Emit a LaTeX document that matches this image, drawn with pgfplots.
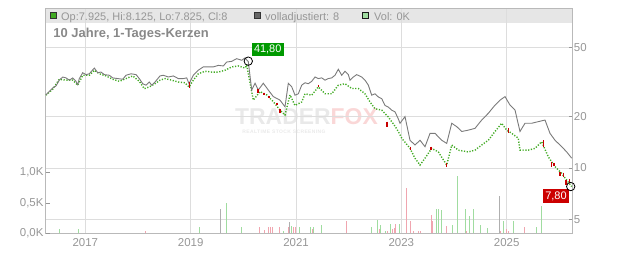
\documentclass[border=0pt]{standalone}
\usepackage{fontspec}
\setmainfont{Liberation Sans}
\newfontfamily\wmfont[LetterSpace=8]{Liberation Sans}
\usepackage{pgfplots}
\usepackage{pgfplotstable}
\pgfplotsset{compat=1.18}

\definecolor{gridcol}{RGB}{221,221,221}
\definecolor{bandcol}{RGB}{230,230,230}
\definecolor{framecol}{RGB}{185,185,185}
\definecolor{labelgray}{RGB}{150,150,150}
\definecolor{titlegray}{RGB}{136,136,136}
\definecolor{pricegray}{RGB}{122,122,122}
\definecolor{candlegreen}{RGB}{65,170,35}
\definecolor{candlered}{RGB}{200,0,0}
\definecolor{volgreen}{RGB}{160,220,160}
\definecolor{volred}{RGB}{240,165,175}
\definecolor{volgray}{RGB}{175,175,175}
\definecolor{boxgreen}{RGB}{0,153,0}
\definecolor{boxred}{RGB}{204,0,0}
\definecolor{wmgray}{RGB}{233,233,233}
\definecolor{wmred}{RGB}{250,215,215}

\pgfplotstableread{
x y
2016.254 26.7
2016.317 27.9
2016.381 29.2
2016.444 30.0
2016.506 32.4
2016.571 33.8
2016.634 33.4
2016.696 32.4
2016.761 33.4
2016.823 31.9
2016.856 30.5
2016.886 33.1
2016.951 35.8
2017.013 34.9
2017.076 35.3
2017.171 38.1
2017.235 35.8
2017.298 36.1
2017.361 34.9
2017.456 34.6
2017.520 33.4
2017.615 33.1
2017.710 32.8
2017.773 34.6
2017.868 35.3
2017.963 34.9
2018.025 33.1
2018.090 30.9
2018.152 30.3
2018.215 31.6
2018.260 30.3
2018.323 31.6
2018.418 34.3
2018.481 34.6
2018.576 33.8
2018.671 34.3
2018.766 33.1
2018.860 33.1
2018.925 33.4
2018.969 30.9
2019.050 34.6
2019.145 37.0
2019.240 38.7
2019.335 38.7
2019.430 38.7
2019.525 39.5
2019.620 39.2
2019.684 41.3
2019.779 41.7
2019.874 43.2
2019.969 42.3
2020.032 43.6
2020.094 41.5
2020.159 28.4
2020.222 31.1
2020.284 28.4
2020.379 31.1
2020.474 28.4
2020.569 26.0
2020.696 24.8
2020.791 22.7
2020.854 31.1
2020.918 29.7
2020.981 26.5
2021.044 27.0
2021.108 30.3
2021.171 31.3
2021.233 30.9
2021.298 31.9
2021.361 33.8
2021.423 33.1
2021.488 33.4
2021.551 32.4
2021.613 33.1
2021.678 33.4
2021.740 34.6
2021.803 37.5
2021.868 34.6
2021.930 36.5
2021.993 34.9
2022.025 32.4
2022.088 33.8
2022.152 34.9
2022.247 33.8
2022.310 32.4
2022.373 30.3
2022.437 26.5
2022.500 27.0
2022.562 25.9
2022.627 25.3
2022.690 23.1
2022.752 22.6
2022.817 21.7
2022.880 21.2
2022.942 19.3
2022.974 18.2
2023.069 19.9
2023.164 14.5
2023.259 13.6
2023.354 14.5
2023.449 13.3
2023.544 15.9
2023.639 15.9
2023.766 14.5
2023.861 13.9
2023.956 18.2
2024.051 17.4
2024.146 16.3
2024.271 16.6
2024.398 17.0
2024.525 19.0
2024.651 20.8
2024.778 23.2
2024.873 24.8
2024.968 26.0
2025.063 23.2
2025.158 21.7
2025.252 16.3
2025.347 18.2
2025.475 18.2
2025.600 18.6
2025.727 19.0
2025.822 15.9
2025.917 14.5
2026.044 13.3
2026.139 12.4
2026.234 11.4
}\graydata

\pgfplotstableread{
x y
2016.254 26.5
2016.381 28.7
2016.506 32.8
2016.634 32.4
2016.761 32.4
2016.856 30.3
2016.951 34.6
2017.076 34.6
2017.171 37.0
2017.266 35.3
2017.393 34.3
2017.520 32.8
2017.645 31.9
2017.773 33.1
2017.900 34.3
2018.025 31.9
2018.120 28.9
2018.215 29.6
2018.323 30.9
2018.418 32.4
2018.513 33.1
2018.640 32.4
2018.766 31.6
2018.893 31.3
2018.969 29.6
2019.050 32.4
2019.145 35.3
2019.272 36.5
2019.400 36.1
2019.525 36.1
2019.652 37.0
2019.779 38.7
2019.905 39.2
2020.032 38.1
2020.064 39.7
2020.189 24.8
2020.317 27.8
2020.444 26.6
2020.569 24.3
2020.696 21.7
2020.791 20.3
2020.886 26.6
2020.981 23.1
2021.108 24.2
2021.171 27.0
2021.298 26.5
2021.423 29.6
2021.551 27.0
2021.678 27.0
2021.803 30.3
2021.930 30.9
2022.057 29.0
2022.183 29.0
2022.310 27.0
2022.405 24.2
2022.500 22.1
2022.627 21.7
2022.752 19.8
2022.880 17.5
2022.942 16.3
2023.007 14.9
2023.164 13.0
2023.259 11.4
2023.354 10.4
2023.449 11.4
2023.576 13.0
2023.702 12.4
2023.861 10.4
2023.956 13.6
2024.081 12.7
2024.271 12.4
2024.398 12.7
2024.525 13.6
2024.651 14.5
2024.778 16.3
2024.905 18.2
2025.000 16.6
2025.095 15.9
2025.220 14.9
2025.252 12.7
2025.410 12.7
2025.537 13.0
2025.664 14.2
2025.790 11.6
2025.917 10.2
2026.044 9.3
2026.139 8.5
2026.234 7.8
}\greendata

\pgfplotstableread{
x y
2018.974 31.7
2018.974 29.1
nan nan
2020.279 28.7
2020.279 27.2
nan nan
2020.392 27.4
2020.392 26.6
nan nan
2020.487 26.2
2020.487 25.4
nan nan
2020.639 24.0
2020.639 23.2
nan nan
2020.696 21.9
2020.696 21.0
nan nan
2021.423 30.4
2021.423 29.5
nan nan
2022.728 18.6
2022.728 17.4
nan nan
2023.178 13.3
2023.178 12.7
nan nan
2023.563 13.3
2023.563 12.7
nan nan
2023.861 10.7
2023.861 10.2
nan nan
2025.030 17.0
2025.030 15.9
nan nan
2025.695 14.5
2025.695 13.3
nan nan
2025.854 10.9
2025.854 10.2
nan nan
2025.898 10.7
2025.898 10.3
nan nan
2026.012 9.5
2026.012 8.98
nan nan
2026.075 9.39
2026.075 8.9
nan nan
2026.126 8.52
2026.126 7.96
nan nan
2026.188 8.6
2026.188 8.15
}\reddata

\pgfplotstableread{
x y
2016.506 66
2016.867 66
2019.164 104
2019.677 500
2019.962 104
2020.759 38
2020.911 120
2021.063 104
2021.266 104
2021.328 104
2021.480 137
2022.430 104
2022.543 220
2022.608 137
2022.690 38
2022.790 154
2022.974 154
2023.671 401
2023.709 401
2023.766 385
2023.967 137
2024.062 946
2024.214 401
2024.303 286
2024.374 401
2024.493 137
2024.632 82
2024.943 203
2025.125 203
2025.562 104
2025.657 455
}\volgreendata

\pgfplotstableread{
x y
2018.152 38
2020.303 104
2020.398 50
2020.474 104
2020.520 104
2020.558 104
2020.683 104
2020.861 104
2020.943 104
2020.981 104
2021.313 66
2021.949 203
2022.581 70
2022.728 38
2022.836 70
2022.866 82
2022.898 148
2023.094 752
2023.164 203
2023.235 38
2023.329 40
2023.354 40
2023.569 302
2023.588 203
2023.861 120
2024.241 30
2024.879 40
2024.987 66
2025.038 40
2025.334 104
}\volreddata

\pgfplotstableread{
x y
2019.563 401
2020.873 186
2024.854 616
}\volgraydata

\begin{document}
\begin{tikzpicture}[x=1bp,y=1bp]
\useasboundingbox (0,0) rectangle (632,253);
% header band
\fill[bandcol] (45.7,230.3) rectangle (572.7,244.7);
% watermark
\node[anchor=base west, inner sep=0pt, font=\fontsize{23}{24}\selectfont\bfseries] at (235,128.5)
  {\textcolor{wmgray}{TRADER}\textcolor{wmred}{FOX}};
\node[anchor=center, inner sep=0pt, font=\wmfont\fontsize{5}{6}\selectfont\bfseries, text=wmgray] at (284,121.5) {REALTIME STOCK SCREENING};

% price grid axis
\begin{axis}[
  at={(45.7bp,19.7bp)}, anchor=south west,
  width=527bp, height=225bp, scale only axis,
  xmin=2016.248, xmax=2026.253,
  ymode=log, ymin=4.172, ymax=84.8,
  grid=major, major grid style={gridcol, line width=0.9bp},
  axis line style={framecol, line width=0.9bp},
  xtick={2017,2019,2021,2023,2025},
  xticklabels={2017,2019,2021,2023,2025},
  xtick style={draw=none},
  xticklabel style={font=\fontsize{11.5}{13}\selectfont, text=labelgray, anchor=north, inner sep=0pt, yshift=-4.5bp},
  ytick={5,10,20,50}, yticklabels={5,10,20,50},
  ytick pos=right, yticklabel pos=right,
  tick align=inside, major tick length=4bp,
  ytick style={labelgray, line width=0.9bp},
  yticklabel style={font=\fontsize{11.5}{13}\selectfont, text=labelgray, anchor=west, inner sep=0pt, xshift=1bp},
  minor tick num=0, log basis y=10,
]
\addplot[draw=none, forget plot] coordinates {(2017,10)};
\end{axis}

% volume axis
\begin{axis}[
  at={(45.7bp,19.7bp)}, anchor=south west,
  width=527bp, height=225bp, scale only axis,
  xmin=2016.248, xmax=2026.253,
  ymin=0, ymax=3713,
  axis x line=none, axis y line*=left,
  y axis line style={draw=none},
  ytick={0,500,1000}, yticklabels={{0,0K},{0,5K},{1,0K}},
  ytick pos=left, tick align=inside, major tick length=4bp,
  ytick style={labelgray, line width=0.9bp},
  yticklabel style={font=\fontsize{11.5}{13}\selectfont, text=labelgray, anchor=east, inner sep=0pt, xshift=-2bp},
]
\addplot[ycomb, volgreen, line width=1bp, no marks] table[x=x,y=y] {\volgreendata};
\addplot[ycomb, volred, line width=1bp, no marks] table[x=x,y=y] {\volreddata};
\addplot[ycomb, volgray, line width=1bp, no marks] table[x=x,y=y] {\volgraydata};
\end{axis}

% price plots
\begin{axis}[
  at={(45.7bp,19.7bp)}, anchor=south west,
  width=527bp, height=225bp, scale only axis,
  xmin=2016.248, xmax=2026.253,
  ymode=log, ymin=4.172, ymax=84.8,
  axis lines=none, clip=false,
  unbounded coords=jump,
]
\addplot[candlegreen, line width=1.4bp, dash pattern=on 1.2bp off 1.6bp, no marks] table[x=x,y=y] {\greendata};
\addplot[pricegray, line width=0.9bp, no marks] table[x=x,y=y] {\graydata};
\addplot[candlered, line width=1.5bp, no marks] table[x=x,y=y] {\reddata};
\addplot[only marks, mark=o, mark size=4.2bp, black, line width=0.8bp] coordinates {(2020.094,41.8) (2026.215,7.8)};
\node[fill=boxgreen, text=white, font=\fontsize{11}{12}\selectfont, anchor=south west, minimum width=31.6bp, minimum height=13.3bp, inner sep=0pt] at (axis cs:2020.159,44.6) {41,80};
\node[fill=boxred, text=white, font=\fontsize{11}{12}\selectfont, anchor=north east, minimum width=25.7bp, minimum height=14.3bp, inner sep=0pt] at (axis cs:2026.183,7.55) {7,80};
\end{axis}

% header legend
\filldraw[fill=candlegreen, draw=black!80, line width=0.8bp] (50.5,234.5) rectangle (56.5,240.5);
\node[anchor=base west, inner sep=0pt, font=\fontsize{11}{12}\selectfont, text=labelgray] at (61,233) {Op:7.925, Hi:8.125, Lo:7.825, Cl:8};
\filldraw[fill=black!60, draw=black!80, line width=0.8bp] (254,234.5) rectangle (260,240.5);
\node[anchor=base west, inner sep=0pt, font=\fontsize{11}{12}\selectfont, text=labelgray] at (265,233) {volladjustiert: 8};
\filldraw[fill=volgreen, draw=black!90, line width=0.8bp] (362.5,234.5) rectangle (368.5,240.5);
\node[anchor=base west, inner sep=0pt, font=\fontsize{11}{12}\selectfont, text=labelgray] at (374,233) {Vol: 0K};
% title
\node[anchor=base west, inner sep=0pt, font=\fontsize{13}{14}\selectfont\bfseries, text=titlegray] at (53.3,215.3) {10 Jahre, 1-Tages-Kerzen};
\end{tikzpicture}
\end{document}
